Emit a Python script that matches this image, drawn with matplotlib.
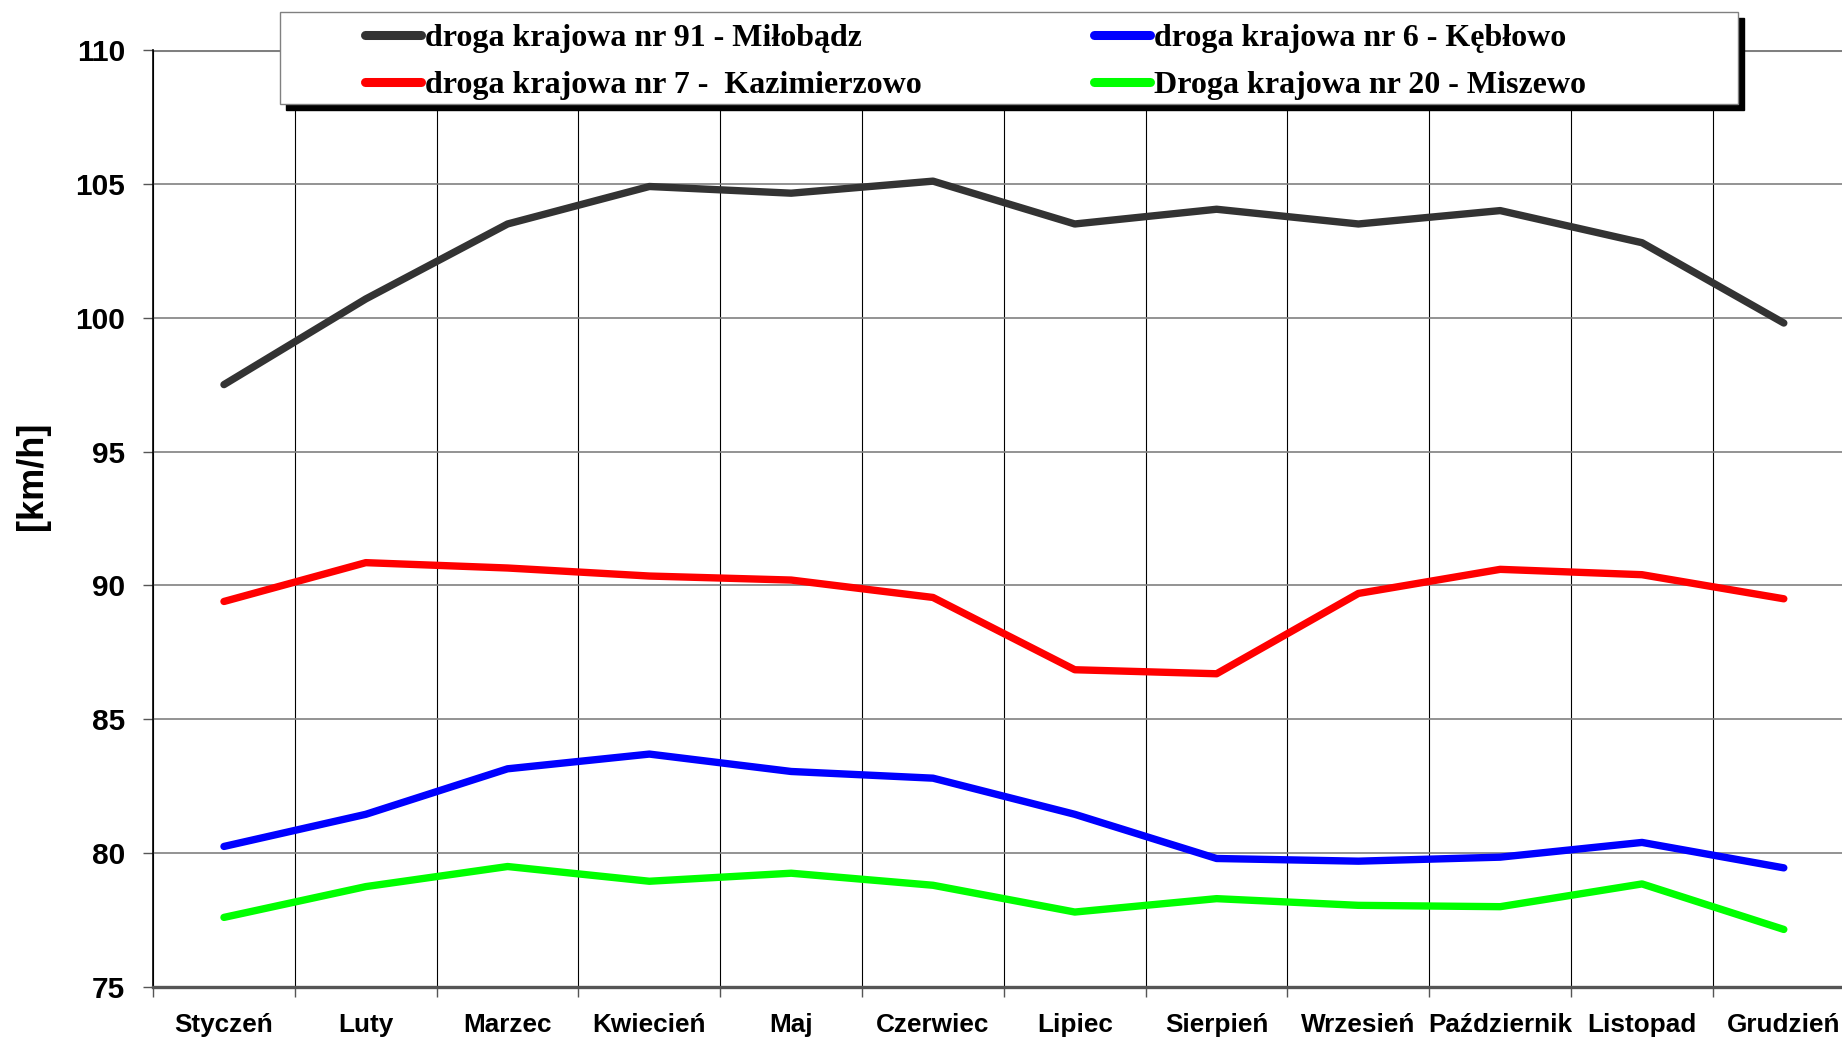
import matplotlib
matplotlib.use("Agg")
import matplotlib.pyplot as plt
from matplotlib.patches import Rectangle
from matplotlib.ticker import MultipleLocator, FixedLocator

# dane
months = ['Styczeń', 'Luty', 'Marzec', 'Kwiecień', 'Maj', 'Czerwiec', 'Lipiec',
          'Sierpień', 'Wrzesień', 'Październik', 'Listopad', 'Grudzień']
dk91 = [97.5, 100.7, 103.5, 104.9, 104.65, 105.1, 103.5, 104.05, 103.5, 104.0, 102.8, 99.8]
dk7 = [89.4, 90.85, 90.65, 90.35, 90.2, 89.55, 86.85, 86.7, 89.7, 90.6, 90.4, 89.5]
dk6 = [80.25, 81.45, 83.15, 83.7, 83.05, 82.8, 81.45, 79.8, 79.7, 79.85, 80.4, 79.45]
dk20 = [77.6, 78.75, 79.5, 78.95, 79.25, 78.8, 77.8, 78.3, 78.05, 78.0, 78.85, 77.15]
labels = ['droga krajowa nr 91 - Miłobądz', 'droga krajowa nr 7 -  Kazimierzowo',
          'droga krajowa nr 6 - Kębłowo', 'Droga krajowa nr 20 - Miszewo']
colors = ['#333333', '#ff0000', '#0000ff', '#00ff00']

fig = plt.figure(figsize=(18.42, 10.45), dpi=100)
ax = fig.add_axes([0.0831, 0.0555, 0.9238, 0.8967])

x = list(range(len(months)))
lines = []
for ys, c in zip([dk91, dk7, dk6, dk20], colors):
    ln, = ax.plot(x, ys, color=c, lw=5.3, solid_capstyle='round', solid_joinstyle='round', zorder=3)
    lines.append(ln)

ax.set_xlim(-0.5, 11.5)
ax.set_ylim(75, 110)
ax.yaxis.set_major_locator(MultipleLocator(5))
ax.set_xticks(x)
ax.set_xticklabels(months, fontfamily='Liberation Sans', fontweight='bold', fontsize=18.8)
ax.xaxis.set_minor_locator(FixedLocator([i + 0.5 for i in range(-1, 11)]))
ax.tick_params(axis='x', which='major', length=0, pad=19)
ax.tick_params(axis='x', which='minor', length=7, width=1, color='#555555', direction='out')
ax.tick_params(axis='y', length=7, width=1, color='#555555', direction='out', pad=13)
for t in ax.get_yticklabels():
    t.set_fontfamily('Liberation Sans')
    t.set_fontweight('bold')
    t.set_fontsize(21.5)

ax.grid(axis='y', which='major', color='#808080', lw=1.2, zorder=0)
ax.grid(axis='x', which='minor', color='black', lw=0.8, zorder=0)
ax.axhline(110, color='#808080', lw=2.2, zorder=1)
ax.spines['top'].set_visible(False)
ax.spines['right'].set_visible(False)
ax.spines['left'].set_color('black')
ax.spines['left'].set_linewidth(1.2)
ax.spines['bottom'].set_color('#555555')
ax.spines['bottom'].set_linewidth(2.4)

fig.text(0.0175, 0.545, '[km/h]', rotation=90, ha='center', va='center',
         fontfamily='Liberation Sans', fontweight='bold', fontsize=26)

# ramka legendy z cieniem
bx, by, bw, bh = 280 / 1842, 1 - 104 / 1045, 1458 / 1842, 92 / 1045
fig.patches.append(Rectangle((bx + 6 / 1842, by - 6 / 1045), bw, bh, transform=fig.transFigure,
                             facecolor='black', edgecolor='black', zorder=4))
fig.patches.append(Rectangle((bx, by), bw, bh, transform=fig.transFigure,
                             facecolor='white', edgecolor='#808080', lw=1, zorder=4.5))

font_leg = {'family': 'Liberation Serif', 'weight': 'bold', 'size': 23}
for i, xa in enumerate([365 / 1842, 1094 / 1842]):
    lg = fig.legend(lines[2 * i:2 * i + 2], labels[2 * i:2 * i + 2], loc='center left',
                    bbox_to_anchor=(xa, 1 - 62 / 1045), frameon=False, prop=font_leg,
                    handlelength=1.75, handletextpad=0.12, labelspacing=0.55,
                    borderpad=0, borderaxespad=0)
    lg.set_zorder(5)
    for h in lg.legend_handles:
        h.set_linewidth(6.5)

fig.savefig('out.png', dpi=100)
